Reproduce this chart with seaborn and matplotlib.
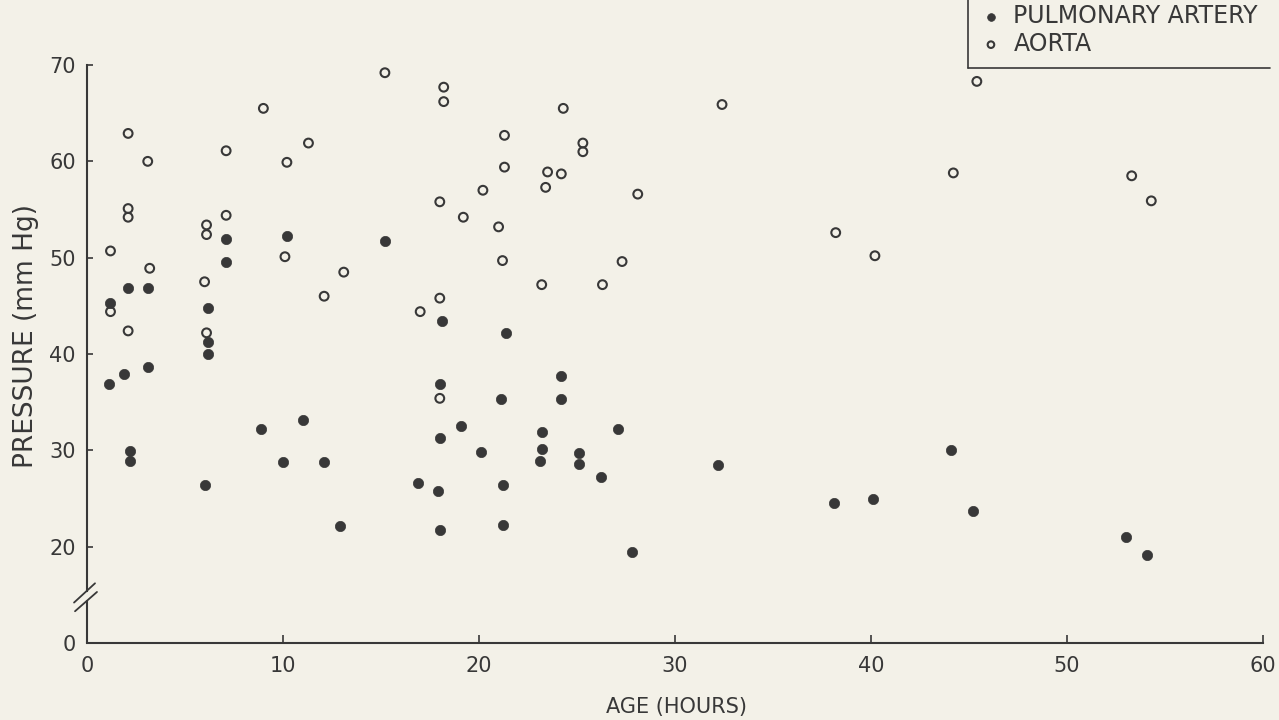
import matplotlib.pyplot as plt
from matplotlib.lines import Line2D
import seaborn as sns

# pulmonary artery pressure (filled dots)
pa_age = [1.1, 1.2, 1.9, 2.1, 2.2, 2.2, 3.1, 3.1, 6.0, 6.2, 6.2, 6.2, 7.1, 7.1, 8.9, 10.0, 10.2,
          11.0, 12.1, 12.9, 15.2, 16.9, 17.9, 18.0, 18.0, 18.1, 18.0, 19.1, 20.1, 21.1, 21.2, 21.2,
          21.4, 23.2, 23.2, 23.1, 24.2, 24.2, 25.1, 25.1, 26.2, 27.1, 27.8, 32.2, 38.1, 40.1, 44.1,
          45.2, 53.0, 54.1]
pa_pressure = [36.9, 45.3, 37.9, 46.9, 29.9, 28.9, 46.9, 38.7, 26.4, 44.8, 41.2, 40.0, 51.9, 49.6,
               32.2, 28.8, 52.2, 33.1, 28.8, 22.2, 51.7, 26.6, 25.8, 31.3, 36.9, 43.4, 21.7, 32.5,
               29.8, 35.3, 26.4, 22.3, 42.2, 31.9, 30.1, 28.9, 37.7, 35.3, 29.7, 28.6, 27.2, 32.2,
               19.5, 28.5, 24.5, 25.0, 30.0, 23.7, 21.0, 19.1]

# aortic pressure (open circles)
ao_age = [1.2, 1.2, 2.1, 2.1, 2.1, 2.1, 3.1, 3.2, 6.0, 6.1, 6.1, 6.1, 7.1, 7.1, 9.0, 10.2, 10.1,
          11.3, 12.1, 13.1, 15.2, 17.0, 18.2, 18.2, 18.0, 18.0, 18.0, 19.2, 20.2, 21.0, 21.2, 21.3,
          21.3, 23.2, 23.5, 23.4, 24.2, 24.3, 25.3, 25.3, 26.3, 27.3, 28.1, 32.4, 38.2, 40.2, 44.2,
          45.4, 53.3, 54.3]
ao_pressure = [44.4, 50.7, 62.9, 55.1, 54.2, 42.4, 60.0, 48.9, 47.5, 53.4, 52.4, 42.2, 61.1, 54.4,
               65.5, 59.9, 50.1, 61.9, 46.0, 48.5, 69.2, 44.4, 67.7, 66.2, 55.8, 45.8, 35.4, 54.2,
               57.0, 53.2, 49.7, 59.4, 62.7, 47.2, 58.9, 57.3, 58.7, 65.5, 61.9, 61.0, 47.2, 49.6,
               56.6, 65.9, 52.6, 50.2, 58.8, 68.3, 58.5, 55.9]

xticks = [0, 10, 20, 30, 40, 50, 60]
# the y axis is broken below 20, the bottom of the axis stands for 0
yticks = [10, 20, 30, 40, 50, 60, 70]
yticklabels = ['0', '20', '30', '40', '50', '60', '70']

paper = '#f3f1e8'
ink = '#383838'

sns.set_theme(style='ticks')
plt.rcParams['font.family'] = ['DejaVu Sans']

fig = plt.figure(figsize=(12.79, 7.2), dpi=100)
fig.patch.set_facecolor(paper)
ax = fig.add_axes([0.068, 0.1069, 0.9195, 0.8028])
ax.set_facecolor(paper)

sns.scatterplot(x=pa_age, y=pa_pressure, ax=ax, color=ink, edgecolor=ink, s=55,
                linewidth=0.5, label='PULMONARY ARTERY', zorder=3)
sns.scatterplot(x=ao_age, y=ao_pressure, ax=ax, color=ink, edgecolor=ink, s=40,
                linewidth=1.5, label='AORTA', zorder=3)
ax.collections[1].set_facecolor('none')

ax.set_xlim(0, 60)
ax.set_ylim(10, 70)
ax.set_xticks(xticks)
ax.set_yticks(yticks)
ax.set_yticklabels(yticklabels)
ax.tick_params(axis='x', direction='in', length=6, width=1.2, pad=9, labelsize=15,
               colors=ink)
ax.tick_params(axis='y', direction='in', length=4, width=1.2, pad=8, labelsize=15,
               colors=ink)

ax.spines[['top', 'right']].set_visible(False)
for side in ['left', 'bottom']:
    ax.spines[side].set_linewidth(1.5)
    ax.spines[side].set_color(ink)
ax.spines['left'].set_bounds(15.4, 70)
# lower piece of the y axis and the break marks
ax.plot([0, 0], [10, 14.4], color=ink, lw=1.5, clip_on=False, zorder=4)
ax.plot([-0.66, 0.41], [14.2, 16.2], color=ink, lw=1.3, clip_on=False, zorder=4)
ax.plot([-0.61, 0.51], [13.3, 15.3], color=ink, lw=1.3, clip_on=False, zorder=4)

ax.set_xlabel('AGE (HOURS)', fontsize=15, color=ink)
ax.set_ylabel('PRESSURE (mm Hg)', fontsize=19, color=ink)
ax.xaxis.set_label_coords(0.501, -0.1107)
ax.xaxis.label.set_va('center')
ax.yaxis.set_label_coords(-0.0519, 0.531)
ax.yaxis.label.set_va('center')

leg = ax.legend(loc='upper left', bbox_to_anchor=(0.7674, 0.994), bbox_transform=fig.transFigure,
                frameon=False, fontsize=17, borderpad=0, borderaxespad=0, handlelength=0.8,
                handletextpad=0.55, labelspacing=0.15, markerscale=0.75)
for t in leg.get_texts():
    t.set_color(ink)
# L shaped rule round the key
fig.add_artist(Line2D([0.7568, 0.7568], [1.0, 0.9056], transform=fig.transFigure, color=ink, lw=1.2))
fig.add_artist(Line2D([0.7568, 0.993], [0.9056, 0.9056], transform=fig.transFigure, color=ink, lw=1.2))

fig.savefig('out.png', dpi=100, facecolor=paper)
